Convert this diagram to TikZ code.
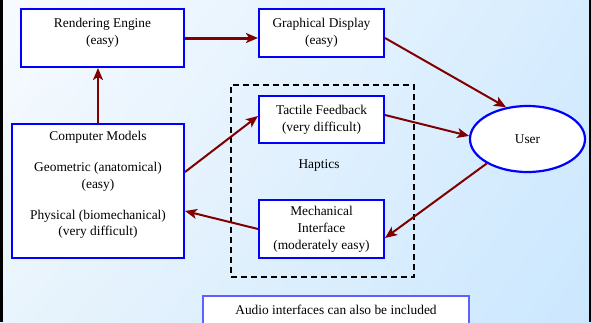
\documentclass[tikz,border=0pt]{standalone}
\usepackage{fontspec}
\setmainfont{Liberation Serif}
\usetikzlibrary{arrows.meta,shapes.geometric,calc,shadings}
\definecolor{linkred}{HTML}{800000}
\definecolor{boxblue}{HTML}{0000FF}
\definecolor{notebox}{HTML}{6060FF}
\definecolor{bgA}{HTML}{F8FBFE}
\definecolor{bgB}{HTML}{D6ECFE}
\definecolor{bgC}{HTML}{E9F4FC}
\definecolor{bgD}{HTML}{CBE7FE}
\begin{document}
\begin{tikzpicture}[x=1pt,y=-1pt,
  every node/.style={font=\fontsize{13.4}{16.8}\selectfont, align=center},
  panel/.style={draw=boxblue, line width=2pt, fill=white, inner sep=0pt},
  flow/.style={draw=linkred, line width=2pt,
    -{Stealth[length=12pt,width=10pt,inset=3pt]}},
]
\useasboundingbox (0,0) rectangle (591,322);
\clip (0,0) rectangle (591,322);

% backdrop and side rules
\shade[upper left=bgA, upper right=bgB, lower left=bgC, lower right=bgD]
  (0,0) rectangle (591,322);
\fill[black] (0,0) rectangle (3,322);
\fill[black] (588.5,0) rectangle (591,322);

% haptics group frame
\node[draw=black, line width=2pt, dash pattern=on 6pt off 4pt,
  minimum width=183pt, minimum height=192pt, inner sep=0pt]
  (hapticsframe) at (322.5,181) {};
\node (haptics) at (319,165) {Haptics};

% component boxes
\node[panel, minimum width=163pt, minimum height=58pt] (render) at (102.5,38) {};
\node (rendertext) at (102.5,32.5) {Rendering Engine\\(easy)};

\node[panel, minimum width=125pt, minimum height=48pt] (display) at (321.5,33)
  {Graphical Display\\(easy)};

\node[panel, minimum width=125pt, minimum height=47pt] (tactile) at (321.5,119.5)
  {Tactile Feedback\\(very difficult)};

\node[panel, minimum width=125pt, minimum height=58pt] (mech) at (321.5,229)
  {Mechanical\\Interface\\(moderately easy)};

\node[panel, minimum width=172pt, minimum height=134pt] (cm) at (98,191) {};
\node (cmtext) at (98,185) {Computer Models\\[14pt]Geometric (anatomical)\\(easy)\\[14pt]Physical (biomechanical)\\(very difficult)};

\node[ellipse, draw=boxblue, line width=2.2pt, fill=white,
  minimum width=115pt, minimum height=66pt, inner sep=0pt] (user) at (527.5,139) {User};

\node[draw=notebox, line width=1.3pt, fill=white, minimum width=266pt,
  minimum height=28pt, inner sep=0pt] (audio) at (336,310)
  {Audio interfaces can also be included};

% connectors
\draw[flow, line width=3pt] (render.east) -- (display.west |- render.east);
\draw[flow, line width=2.5pt] (cm.north) -- (cm.north |- render.south);
\draw[flow] (display.east |- 0,38) -- (user.124);
\draw[flow] (tactile.east |- 0,115) -- (user.177);
\draw[flow] (cm.east |- 0,172) -- (tactile.west |- 0,116);
\draw[flow] (mech.west |- 0,229) -- (cm.east |- 0,211);
\draw[flow] (user.211) -- (mech.east |- 0,238);
\end{tikzpicture}
\end{document}
